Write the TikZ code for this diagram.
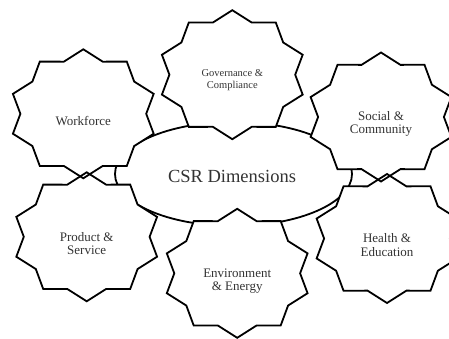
\documentclass[tikz,border=0pt]{standalone}
\usepackage{fontspec}
\setmainfont{Liberation Serif}
\usetikzlibrary{positioning}
\def\burst#1#2{plot[samples at={0,...,19}] ({#1+74*(isodd(\x)?0.85:1)*cos(90+18*\x)}, {#2+64.5*(isodd(\x)?0.85:1)*sin(90+18*\x)}) -- cycle}

\begin{document}
\begin{tikzpicture}[x=1pt, y=-1pt, edge/.style={draw=black, line width=1.8pt, line join=miter}, blank/.style={fill=white}, tag/.style={align=center, inner sep=0pt, text=black!80, font=\fontsize{13}{13.5}\selectfont}]
    \useasboundingbox (0,0) rectangle (449,339);

    % centre ellipse sits underneath the bursts
    \draw[edge, blank] (233.5,174) ellipse [x radius=118.5, y radius=52];
    \foreach \cx/\cy in {83.3/113.8, 232.3/74.7, 381/117, 86.7/236.8, 237.2/273.3, 387/238.5} {
        \fill[blank] \burst{\cx}{\cy};
    }
    \foreach \cx/\cy in {83.3/113.8, 232.3/74.7, 381/117, 86.7/236.8, 237.2/273.3, 387/238.5} {
        \draw[edge] \burst{\cx}{\cy};
    }

    \node[tag, font=\fontsize{18.5}{20}\selectfont] (csr) at (232,176) {CSR Dimensions};
    \node[tag] (workforce) at (83.3,121.5) {Workforce};
    \node[tag, font=\fontsize{10.5}{12}\selectfont] (governance) at (232.3,80.5) {Governance \&\\Compliance};
    \node[tag] (social) at (381,124) {Social \&\\Community};
    \node[tag] (product) at (86.7,243.5) {Product \&\\Service};
    \node[tag] (environment) at (237.2,281) {Environment\\\& Energy};
    \node[tag] (health) at (387,245) {Health \&\\Education};
\end{tikzpicture}
\end{document}
